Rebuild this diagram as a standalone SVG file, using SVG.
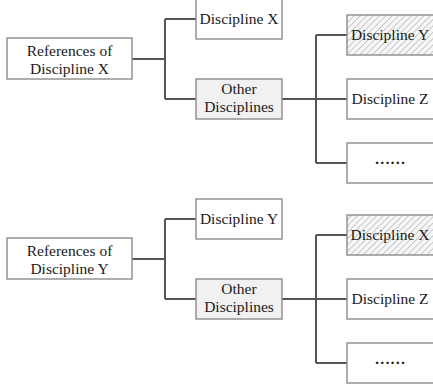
<svg xmlns="http://www.w3.org/2000/svg" width="433" height="387" viewBox="0 0 433 387">
<defs>
<pattern id="hatch" width="4.5" height="4.5" patternUnits="userSpaceOnUse" patternTransform="rotate(45)">
<rect width="4.5" height="4.5" fill="#f7f7f7"/>
<line x1="0" y1="0" x2="0" y2="4.5" stroke="#9a9a9a" stroke-width="1"/>
</pattern>
</defs>
<style>
.box{fill:#ffffff;stroke:#8c8c8c;stroke-width:1.4}
.grey{fill:#f1f1f1}
.hatch{fill:url(#hatch)}
.t{font-family:"Liberation Serif","Times New Roman",serif;font-size:15.5px;fill:#1a1a1a;text-anchor:middle}
.d{font-weight:bold}
.c{fill:none;stroke:#555555;stroke-width:2}
</style>
<g id="connectors">
<path class="c" d="M132 59H165M165 19V99M165 19H196M165 99H196M282 99H347M316 35V163M316 35H347M316 163H347"/>
<path class="c" d="M132 259H165M165 219V299M165 219H196M165 299H196M282 299H347M316 235V363M316 235H347M316 363H347"/>
</g>
<g id="refX"><rect class="box" x="7" y="38" width="125" height="41"/><text class="t" x="69.5" y="56">References of</text><text class="t" x="69.5" y="74">Discipline X</text></g>
<g id="discX1"><rect class="box" x="196" y="-1" width="86" height="40"/><text class="t" x="239" y="24">Discipline X</text></g>
<g id="other1"><rect class="box grey" x="196" y="79" width="86" height="40"/><text class="t" x="239" y="94">Other</text><text class="t" x="239" y="112">Disciplines</text></g>
<g id="discY1"><rect class="box hatch" x="347" y="15" width="88" height="40"/><text class="t" x="390" y="40">Discipline Y</text></g>
<g id="discZ1"><rect class="box" x="347" y="79" width="88" height="40"/><text class="t" x="390" y="104">Discipline Z</text></g>
<g id="more1"><rect class="box" x="347" y="143" width="88" height="40"/><text class="t d" x="390" y="164">……</text></g>
<g id="refY"><rect class="box" x="7" y="238" width="125" height="41"/><text class="t" x="69.5" y="256">References of</text><text class="t" x="69.5" y="274">Discipline Y</text></g>
<g id="discY2"><rect class="box" x="196" y="199" width="86" height="40"/><text class="t" x="239" y="224">Discipline Y</text></g>
<g id="other2"><rect class="box grey" x="196" y="279" width="86" height="40"/><text class="t" x="239" y="294">Other</text><text class="t" x="239" y="312">Disciplines</text></g>
<g id="discX2"><rect class="box hatch" x="347" y="215" width="88" height="40"/><text class="t" x="390" y="240">Discipline X</text></g>
<g id="discZ2"><rect class="box" x="347" y="279" width="88" height="40"/><text class="t" x="390" y="304">Discipline Z</text></g>
<g id="more2"><rect class="box" x="347" y="343" width="88" height="40"/><text class="t d" x="390" y="364">……</text></g>
</svg>
